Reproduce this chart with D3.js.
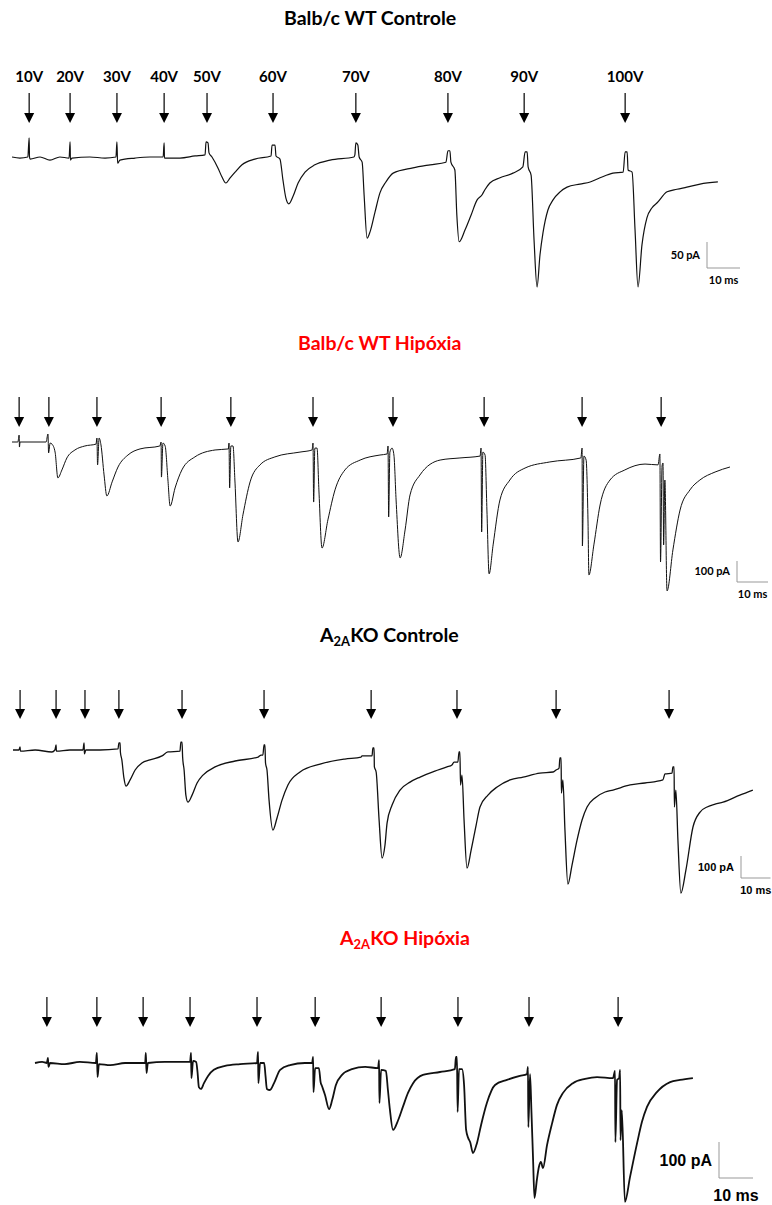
<html>
<head>
<meta charset="utf-8">
<script src="https://d3js.org/d3.v7.min.js"></script>
<style>body{margin:0;background:#fff}</style>
</head>
<body>
<svg id="fig" width="772" height="1205"></svg>
<script>
// panel titles ([text, isSubscript] parts)
let titleParts = [
    [["Balb/c WT Controle", false]],
    [["Balb/c WT Hipóxia", false]],
    [["A", false], ["2A", true], ["KO Controle", false]],
    [["A", false], ["2A", true], ["KO Hipóxia", false]]
];
let titleColors = ["#000", "#ff0000", "#000", "#ff0000"];

// stimulus intensity labels (first panel only)
let voltLabels = ["10V", "20V", "30V", "40V", "50V", "60V", "70V", "80V", "90V", "100V"];

// stimulus times (ms)
let wtCtrlStim = [5.2, 17.6, 31.8, 46.1, 59.1, 79.1, 104.2, 132.1, 155.2, 185.8];
let wtHypStim = [2.3, 11.9, 27.4, 48.1, 70.6, 97.1, 122.9, 152.3, 183.9, 209.4];
let koCtrlStim = [2.4, 14.6, 24.4, 35.9, 57.3, 85.1, 121.4, 150.5, 184.1, 222.4];
let koHypStim = [3.5, 18.2, 31.8, 45.6, 65.3, 82.4, 101.8, 124.4, 145.3, 171.5];

// scale bars: [pA, ms]
let scaleBars = [[50, 10], [100, 10], [100, 10], [100, 10]];

// traces: [time ms, current pA]
let wtCtrlTrace = [
    [0, 0], [2.4, -2], [4.8, 0], [5.2, 37], [5.3, 0], [5.5, -4], [8.5, 0], [11.5, -6], [14.5, 0],
    [17.3, -2], [17.6, 29], [17.7, -6], [18.2, -2], [23.6, 0], [28.2, -2], [31.5, 0], [31.8, 29],
    [32, -12], [32.7, -6], [37.3, -2], [41.8, 0], [45.8, 0], [46.1, 27], [46.2, -2], [50.9, -2],
    [55.5, 2], [58.5, 4], [58.8, 29], [59.4, 27], [59.7, 8], [60.6, 0], [62.4, -21], [63.6, -38],
    [64.8, -50], [66.1, -40], [67.6, -29], [69.7, -15], [73.6, -4], [78.5, 2], [78.8, 23], [79.7, 23],
    [80, 2], [81.2, -4], [82.1, -44], [83, -79], [83.9, -90], [85.2, -75], [86.7, -50], [88.8, -29],
    [91.8, -15], [96.4, -6], [103.6, 0], [103.9, 4], [104.2, 27], [104.8, 23], [105.2, 0], [106.1, -10],
    [106.7, -73], [107.6, -156], [108.5, -144], [110, -106], [111.5, -69], [113.3, -48], [115.5, -31],
    [121.5, -21], [126.7, -15], [131.5, -10], [132.1, 12], [132.7, 12], [133, -10], [134.2, -25],
    [134.8, -112], [135.5, -163], [137.3, -140], [139.1, -112], [140.9, -83], [142.4, -73], [143.3, -63],
    [144.8, -50], [147.9, -40], [151.8, -31], [154.8, -19], [155.5, 10], [156.1, 10], [156.4, -19],
    [157.3, -35], [158.2, -160], [159.1, -250], [160, -188], [160.9, -146], [162.4, -102], [163.9, -83],
    [166.1, -67], [168.2, -58], [172.1, -52], [175.2, -48], [178.2, -40], [182.1, -31], [185.2, -29],
    [185.8, 10], [186.4, 10], [186.7, -25], [187.9, -29], [188.8, -140], [189.7, -250], [190.9, -169],
    [192.4, -117], [193.9, -98], [195.5, -88], [198.5, -67], [201.5, -62], [204.5, -58], [208.5, -52],
    [213.9, -48]
];

let wtHypTrace = [
    [0, 0], [1.9, 0], [2.3, 33], [2.4, -24], [2.6, 0], [11, 0], [11.6, 38], [11.8, -52], [12.3, -5],
    [12.9, -10], [13.9, -48], [14.8, -171], [16.1, -133], [17.7, -76], [20.3, -38], [23.5, -19],
    [27.1, -10], [27.4, 19], [27.6, -109], [28.1, 19], [28.7, -14], [29.7, -157], [30.6, -257],
    [32.3, -190], [34.2, -119], [37.4, -62], [41.3, -33], [47.7, -19], [48.1, 0], [48.2, -167],
    [48.7, -5], [49.4, -19], [50.3, -181], [51, -305], [52.6, -219], [54.8, -133], [59, -71],
    [65.5, -38], [69.8, -33], [70, -5], [70.2, -219], [70.6, -19], [71.3, -19], [71.9, -181],
    [72.9, -476], [74.5, -347], [76.8, -190], [80, -109], [84.8, -71], [92.9, -48], [96.8, -38],
    [97.1, -5], [97.3, -286], [97.7, -29], [98.4, -29], [99, -228], [100, -505], [101.9, -371],
    [104.2, -228], [107.4, -133], [112.3, -86], [118.7, -62], [121, -57], [121.3, -19], [121.5, -357],
    [121.9, -48], [122.6, -29], [123.2, -62], [123.9, -276], [125.2, -552], [126.8, -419], [128.4, -252],
    [131.6, -157], [138.1, -86], [144.5, -76], [151, -67], [151.3, -29], [151.5, -428], [151.9, -48],
    [152.6, -62], [153.2, -324], [153.9, -628], [155.2, -490], [157.4, -276], [160.6, -181],
    [165.5, -124], [173.5, -95], [183.5, -76], [183.9, -29], [184, -495], [184.5, -67], [185.2, -86],
    [185.8, -371], [186.1, -633], [187.7, -490], [189.7, -300], [192.9, -181], [197.7, -133],
    [204.2, -105], [208.4, -109], [209, -57], [209.2, -571], [209.7, -114], [210, -100], [210.2, -490],
    [210.6, -181], [211.3, -709], [213.2, -514], [215.5, -324], [218.7, -228], [221.9, -181],
    [226.8, -143], [231.6, -119]
];

let koCtrlTrace = [
    [0, 0], [2, 0], [2.4, 14], [2.5, -5], [7.5, 0], [13.2, -9], [14.2, 0], [14.6, 23], [14.7, -5],
    [19.3, 0], [23.7, 0], [24.1, 32], [24.2, -18], [24.7, 0], [29.5, 0], [35.6, 5], [35.9, 32],
    [36.3, 32], [36.4, -9], [36.9, -45], [37.6, -127], [38.3, -164], [39.7, -136], [41.4, -91],
    [43.7, -59], [46.4, -45], [50.5, -27], [52.5, -9], [56.6, -5], [56.9, 36], [57.3, 36], [57.5, -32],
    [58, -91], [58.6, -205], [59.3, -237], [60.7, -205], [62.4, -150], [64.4, -114], [68.5, -77],
    [75.3, -50], [83.1, -32], [84.1, -23], [84.7, -23], [85.1, 23], [85.4, 23], [85.6, -59], [86.1, -91],
    [86.8, -228], [88.1, -364], [89.5, -309], [91.2, -228], [93.2, -159], [97.3, -100], [104.1, -64],
    [112.5, -41], [118, -32], [118.3, -27], [121.7, -27], [122, 9], [122.4, 9], [122.5, -77],
    [123.1, -100], [124.1, -318], [125.1, -491], [126.1, -432], [126.8, -332], [128.5, -250],
    [131.2, -182], [134.6, -146], [138, -123], [143, -96], [147.1, -77], [148.8, -68], [149.5, -55],
    [150.8, -55], [151.2, -9], [151.5, -9], [151.7, -159], [152.2, -114], [152.9, -318], [153.9, -537],
    [155.3, -455], [157, -341], [158.3, -259], [161, -205], [164.1, -168], [168.5, -136], [172.9, -123],
    [178.6, -105], [183.1, -100], [184.1, -91], [185.1, -82], [185.4, -36], [185.8, -36], [185.9, -196],
    [186.4, -136], [187.1, -364], [188.1, -610], [189.5, -523], [191.2, -410], [192.9, -318],
    [194.6, -259], [197.3, -218], [200.7, -191], [203.4, -182], [209.2, -159], [214.2, -150],
    [220.3, -136], [221, -109], [223.4, -105], [223.7, -77], [224.1, -77], [224.2, -259], [224.7, -182],
    [225.4, -410], [226.4, -651], [228.1, -546], [230.5, -350], [232.9, -282], [235.3, -259],
    [238, -246], [240.7, -237], [246.4, -205], [250.8, -182]
];

let koHypTrace = [
    [0, 0], [2.1, 3], [3.5, 0], [3.8, 14], [3.97, -11], [4.4, 0], [8.8, -3], [13.2, 3], [17.9, 0],
    [18.2, 28], [18.4, -39], [18.8, -3], [22.1, -6], [26.5, 0], [32.4, 0], [32.6, 28], [32.8, -28],
    [33.2, 0], [38.2, 3], [45.6, 3], [45.9, 28], [46, -42], [46.5, 6], [47.4, 3], [47.8, -25],
    [48.2, -67], [48.8, -72], [49.7, -56], [50.9, -36], [52.6, -19], [55.9, -8], [60.3, -3], [65.3, 0],
    [65.6, 31], [65.7, -56], [66.2, 0], [67.4, 0], [67.8, -36], [68.2, -72], [69.1, -75], [70.3, -56],
    [72.1, -19], [75, -6], [79.4, 0], [81.5, 0], [81.8, 17], [81.9, -81], [82.4, -14], [83.5, -14],
    [84, -53], [84.4, -64], [85.3, -89], [86.5, -128], [87.4, -103], [88.5, -61], [90.3, -33],
    [93.2, -17], [97.1, -11], [100.9, -14], [101.2, 8], [101.3, -111], [101.8, -19], [103.2, -22],
    [103.8, -75], [104.4, -131], [105.3, -186], [106.8, -159], [108.2, -122], [109.7, -83],
    [111.2, -56], [114.1, -33], [119.1, -25], [123.5, -17], [123.8, 17], [124.1, 17], [124.3, -136],
    [124.7, -17], [125.6, -17], [126.2, -61], [126.8, -186], [127.4, -208], [128, -220], [128.8, -250],
    [130, -222], [131.2, -172], [132.9, -111], [135.3, -61], [138.8, -47], [142.6, -36], [144.7, -31],
    [145, -11], [145.1, -178], [145.6, -31], [146, -131], [146.5, -270], [146.9, -375], [147.6, -325],
    [148.2, -289], [148.8, -275], [149.4, -292], [150.6, -228], [152.1, -167], [153.5, -117],
    [155.3, -83], [158.2, -56], [161.8, -44], [165.3, -39], [170, -42], [170.6, -22], [170.7, -220],
    [171.2, -47], [171.8, -42], [172.1, -19], [172.2, -214], [172.6, -131], [173.5, -386], [175, -317],
    [177.1, -222], [178.5, -164], [180, -122], [182.9, -81], [186.8, -53], [189.7, -47], [193.5, -42]
];

let traces = [wtCtrlTrace, wtHypTrace, koCtrlTrace, koHypTrace];
let stims = [wtCtrlStim, wtHypStim, koCtrlStim, koHypStim];

// layout of each panel on the page
let panels = [
    { x0: 12, pxMs: 3.3, y0: 157, pxPa: 0.52, titleX: 284, titleY: 25, arrowTop: 93, arrowTip: 123, lw: 1.2,
      barX: 707, barY: 268, barFont: "Lato", barSize: 11 },
    { x0: 12, pxMs: 3.1, y0: 442, pxPa: 0.21, titleX: 298, titleY: 350, arrowTop: 397, arrowTip: 427, lw: 1.0,
      barX: 737, barY: 582, barFont: "Lato", barSize: 11 },
    { x0: 13, pxMs: 2.95, y0: 750, pxPa: 0.22, titleX: 320, titleY: 642, arrowTop: 690, arrowTip: 719, lw: 1.3,
      barX: 741, barY: 878, barFont: "Liberation Sans", barSize: 11 },
    { x0: 35, pxMs: 3.4, y0: 1063, pxPa: 0.36, titleX: 340, titleY: 945, arrowTop: 997, arrowTip: 1027, lw: 1.8,
      barX: 719, barY: 1178, barFont: "Liberation Sans", barSize: 16 }
];

let svg = d3.select("#fig");

panels.forEach((p, i) => {
    let xScale = d3.scaleLinear()
        .domain([0, 10])
        .range([p.x0, p.x0 + p.pxMs * 10]);
    let yScale = d3.scaleLinear()
        .domain([0, -100])
        .range([p.y0, p.y0 + p.pxPa * 100]);

    // title
    let t = svg.append("text")
        .attr("x", p.titleX)
        .attr("y", p.titleY)
        .attr("text-anchor", "start")
        .attr("font-family", "Lato")
        .attr("font-weight", "bold")
        .attr("font-size", "19.5px")
        .attr("fill", titleColors[i]);
    titleParts[i].forEach((part, k) => {
        let ts = t.append("tspan").text(part[0]);
        if (part[1]) {
            ts.attr("font-size", "13px").attr("dy", 4);
        } else if (k > 0) {
            ts.attr("dy", -4);
        }
    });

    // stimulus arrows
    stims[i].forEach((s, j) => {
        let ax = xScale(s);
        svg.append("line")
            .attr("x1", ax)
            .attr("x2", ax)
            .attr("y1", p.arrowTop)
            .attr("y2", p.arrowTip - 9)
            .attr("stroke", "#000")
            .attr("stroke-width", 1.2);
        svg.append("path")
            .attr("d", "M" + (ax - 5) + "," + (p.arrowTip - 10) + "L" + (ax + 5) + "," + (p.arrowTip - 10) + "L" + ax + "," + p.arrowTip + "Z")
            .attr("fill", "#000");
        if (i == 0) {
            svg.append("text")
                .attr("x", ax)
                .attr("y", 82)
                .attr("text-anchor", "middle")
                .attr("font-family", "Lato")
                .attr("font-weight", "bold")
                .attr("font-size", "15px")
                .text(voltLabels[j]);
        }
    });

    // current trace
    let line = d3.line()
        .x(d => xScale(d[0]))
        .y(d => yScale(d[1]))
        .curve(d3.curveMonotoneX);
    svg.append("path")
        .attr("d", line(traces[i]))
        .attr("fill", "none")
        .attr("stroke", "#111")
        .attr("stroke-width", p.lw)
        .attr("stroke-linejoin", "round");

    // scale bar
    let pa = scaleBars[i][0], ms = scaleBars[i][1];
    let barH = yScale(-pa) - yScale(0);
    let barW = xScale(ms) - xScale(0);
    svg.append("path")
        .attr("d", "M" + p.barX + "," + (p.barY - barH) + "V" + p.barY + "H" + (p.barX + barW))
        .attr("fill", "none")
        .attr("stroke", "#999")
        .attr("stroke-width", 1);
    svg.append("text")
        .attr("x", p.barX - 7)
        .attr("y", p.barY - barH / 2 + p.barSize * 0.35)
        .attr("text-anchor", "end")
        .attr("font-family", p.barFont)
        .attr("font-weight", "bold")
        .attr("font-size", p.barSize + "px")
        .text(pa + " pA");
    svg.append("text")
        .attr("x", p.barX + barW / 2)
        .attr("y", p.barY + p.barSize * 1.45)
        .attr("text-anchor", "middle")
        .attr("font-family", p.barFont)
        .attr("font-weight", "bold")
        .attr("font-size", p.barSize + "px")
        .text(ms + " ms");
});
</script>
</body>
</html>
